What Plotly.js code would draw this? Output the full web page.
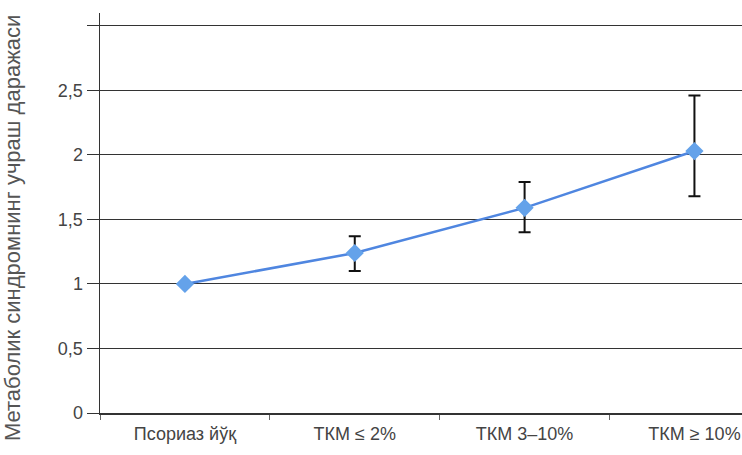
<!DOCTYPE html>
<html>
<head>
<meta charset="utf-8">
<script src="https://cdn.plot.ly/plotly-3.0.1.min.js"></script>
<style>html,body{margin:0;padding:0;background:#fff;}#chart{width:742px;height:455px;}</style>
</head>
<body>
<div id="chart"></div>
<script>
const categories = ["Псориаз йўқ", "ТКМ ≤ 2%", "ТКМ 3–10%", "ТКМ ≥ 10%"];
const values = [1.0, 1.24, 1.59, 2.03];
const errPlus = [0, 0.13, 0.20, 0.43];
const errMinus = [0, 0.14, 0.19, 0.35];
const yTickVals = [0, 0.5, 1, 1.5, 2, 2.5, 3];
const yTickText = ["0", "0,5", "1", "1,5", "2", "2,5", ""];
const yTitle = "Метаболик синдромнинг учраш даражаси";

const trace = {
  x: categories,
  y: values,
  type: "scatter",
  mode: "lines+markers",
  line: {color: "#4f86e0", width: 2.5},
  marker: {symbol: "diamond", size: 14, color: "#64a2ea"},
  error_y: {type: "data", symmetric: false, array: errPlus, arrayminus: errMinus,
            color: "#111", thickness: 2, width: 6},
  cliponaxis: false,
  hoverinfo: "skip"
};

const layout = {
  width: 742, height: 455,
  margin: {l: 100, r: 0, t: 13, b: 42},
  paper_bgcolor: "#fff", plot_bgcolor: "#fff",
  showlegend: false,
  font: {family: "Liberation Sans, Arial, sans-serif", size: 18, color: "#444"},
  xaxis: {
    type: "category",
    range: [-0.5, 3.28],
    tickson: "boundaries",
    ticks: "outside", ticklen: 5, tickcolor: "#666", tickwidth: 1,
    ticklabelstandoff: 4,
    showline: true, linecolor: "#333", linewidth: 1.5,
    showgrid: false, zeroline: false,
    automargin: false,
    tickfont: {size: 18, color: "#444"}
  },
  yaxis: {
    range: [0, 3.1],
    tickvals: yTickVals, ticktext: yTickText,
    ticks: "outside", ticklen: 12, tickcolor: "#333", tickwidth: 1,
    showline: true, linecolor: "#333", linewidth: 1.5,
    showgrid: true, gridcolor: "#333", gridwidth: 1,
    zeroline: false,
    automargin: false,
    tickfont: {size: 18, color: "#444"}
  },
  annotations: [{
    text: yTitle, textangle: -90,
    xref: "paper", yref: "paper",
    x: -0.137, y: 0.4625, xanchor: "center", yanchor: "middle",
    showarrow: false,
    font: {size: 22, color: "#555"}
  }]
};

Plotly.newPlot("chart", [trace], layout, {displayModeBar: false, staticPlot: true});
</script>
</body>
</html>
